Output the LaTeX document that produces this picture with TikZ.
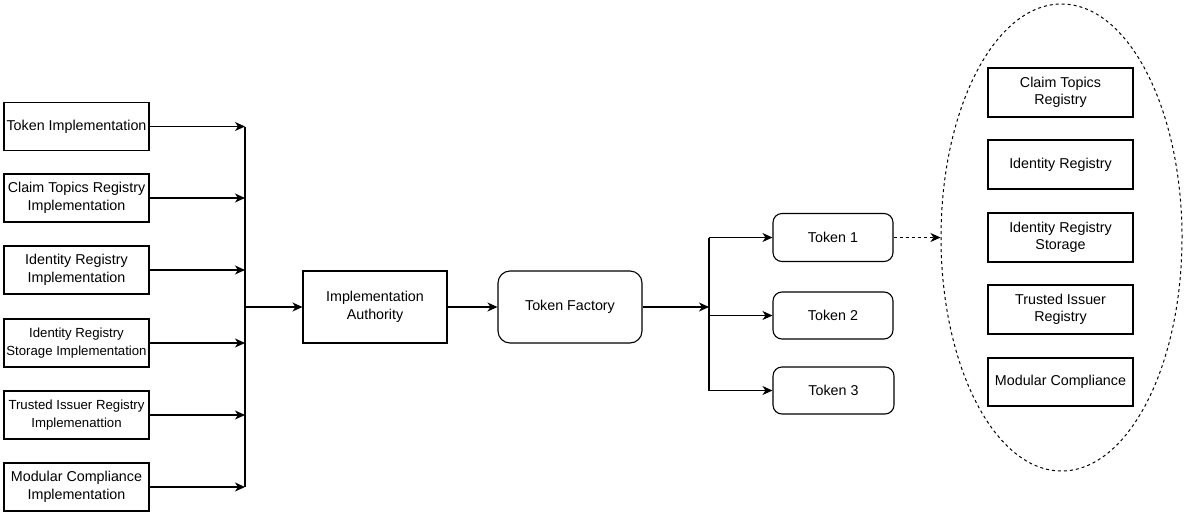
\documentclass[tikz,border=0pt]{standalone}
\usepackage{fontspec}
\setmainfont{Liberation Sans}
\usetikzlibrary{arrows.meta,shapes.geometric}
\tikzset{
  box/.style={draw=black, line width=1.1pt, minimum width=145pt, minimum height=48pt, inner sep=0pt, align=center, font=\fontsize{14.3}{17.5}\selectfont},
  smallbox/.style={box, font=\fontsize{13.2}{17.5}\selectfont},
  bigbox/.style={box, minimum width=144pt, minimum height=72pt},
  rbox/.style={box, rounded corners=9pt, minimum width=120pt, minimum height=47pt},
  arr/.style={line width=1.1pt, -{Stealth[length=10pt,width=9pt,inset=3pt]}},
  line/.style={line width=1.1pt},
  darr/.style={arr, dash pattern=on 3pt off 3pt},
}
\begin{document}
\begin{tikzpicture}[x=1pt,y=-1pt]
\useasboundingbox (0,0) rectangle (1191,517);
% left column
\node[box] (ti) at (76.5,126.5) {Token Implementation};
\node[box] (ctri) at (76.5,198) {Claim Topics Registry\\Implementation};
\node[box] (iri) at (76.5,270) {Identity Registry\\Implementation};
\node[smallbox] (irsi) at (76.5,343) {Identity Registry\\Storage Implementation};
\node[smallbox] (tiri) at (76.5,415) {Trusted Issuer Registry\\Implemenattion};
\node[box] (mci) at (76.5,487) {Modular Compliance\\Implementation};
\coordinate (busa) at (245,0);
\foreach \n in {ti,ctri,iri,irsi,tiri,mci}{
  \draw[arr] (\n.east) -- (\n.east -| busa);
}
\draw[line] (ti.east -| busa) -- (mci.east -| busa);
% middle
\node[bigbox] (ia) at (375,307) {Implementation\\Authority};
\node[bigbox, rounded corners=12pt] (tf) at (570,307) {Token Factory};
\draw[arr] (busa |- ia.west) -- (ia.west);
\draw[arr] (ia.east) -- (tf.west);
\coordinate (busb) at (709,0);
\draw[arr] (tf.east) -- (tf.east -| busb);
% tokens
\node[rbox, minimum height=48pt] (t1) at (833,237.5) {Token 1};
\node[rbox] (t2) at (833,315.5) {Token 2};
\node[rbox, minimum width=121pt] (t3) at (833.5,390.5) {Token 3};
\draw[line] (busb |- t1.west) -- (busb |- t3.west);
\draw[arr] (busb |- t1.west) -- (t1.west);
\draw[arr] (busb |- t2.west) -- (t2.west);
\draw[arr] (busb |- t3.west) -- (t3.west);
% ellipse group
\node[draw=black, line width=1pt, dash pattern=on 3pt off 3pt, ellipse, minimum width=241pt, minimum height=467pt, inner sep=0pt] (ell) at (1061.5,237.5) {};
\node[box, minimum height=49pt] (ctr) at (1060.5,92.5) {Claim Topics\\Registry};
\node[box, minimum height=49pt] (ir) at (1060.5,164.5) {Identity Registry};
\node[box, minimum height=49pt] (irs) at (1060.5,237.5) {Identity Registry\\Storage};
\node[box, minimum height=49pt] (tir) at (1060.5,309.5) {Trusted Issuer\\Registry};
\node[box] (mc) at (1060.5,382) {Modular Compliance};
\draw[darr] (t1.east) -- (ell.west);
\end{tikzpicture}
\end{document}
